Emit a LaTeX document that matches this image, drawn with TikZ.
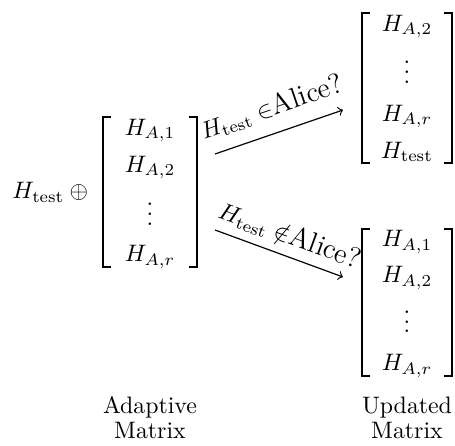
\documentclass[tikz,border=0pt]{standalone}
\usepackage{amsmath}
\begin{document}
\begin{tikzpicture}[x=0.42pt,y=-0.42pt,
  brk/.style={line width=0.8pt},
  ent/.style={anchor=base,inner sep=0pt},
  arr/.style={->,line width=0.5pt},
  lab/.style={sloped,above}]
\useasboundingbox (0,0) rectangle (455,446);
% left part
\node[anchor=base west,inner sep=0pt] (ht) at (12,199) {${H_{\mathrm{test}}}\oplus{}$};
\node[ent] (l1) at (150,135) {$H_{A,1}$};
\node[ent] (l2) at (150,172) {$H_{A,2}$};
\node[ent] (l3) at (150,225) {$\vdots$};
\node[ent] (l4) at (150,262) {$H_{A,r}$};
\draw[brk] (111,117) -- (103,117) -- (103,267) -- (111,267);
\draw[brk] (189,117) -- (197,117) -- (197,267) -- (189,267);
% top right
\node[ent] (t1) at (407,31) {$H_{A,2}$};
\node[ent] (t2) at (407,83) {$\vdots$};
\node[ent] (t3) at (407,121) {$H_{A,r}$};
\node[ent] (t4) at (407,158) {$H_{\mathrm{test}}$};
\draw[brk] (370,13) -- (362,13) -- (362,163) -- (370,163);
\draw[brk] (444,13) -- (452,13) -- (452,163) -- (444,163);
% bottom right
\node[ent] (b1) at (407,247) {$H_{A,1}$};
\node[ent] (b2) at (407,283) {$H_{A,2}$};
\node[ent] (b3) at (407,333) {$\vdots$};
\node[ent] (b4) at (407,371) {$H_{A,r}$};
\draw[brk] (370,229) -- (362,229) -- (362,376) -- (370,376);
\draw[brk] (444,229) -- (452,229) -- (452,376) -- (444,376);
% arrows
\coordinate (a1s) at (215,154);
\coordinate (a1e) at (343,110);
\coordinate (a2s) at (215,230);
\coordinate (a2e) at (343,277);
\draw[arr] (a1s) -- node[lab,inner sep=5.5pt,pos=0.51] (la1) {$H_{\mathrm{test}}\in$\large Alice?} (a1e);
\draw[arr] (a2s) -- node[lab,inner sep=3.5pt,pos=0.53] (la2) {$H_{\mathrm{test}}\notin$\large Alice?} (a2e);
% captions
\node[ent] (c1) at (150,414) {Adaptive};
\node[ent] (c2) at (150,439) {Matrix};
\node[ent] (c3) at (407,414) {Updated};
\node[ent] (c4) at (407,439) {Matrix};
\end{tikzpicture}
\end{document}
